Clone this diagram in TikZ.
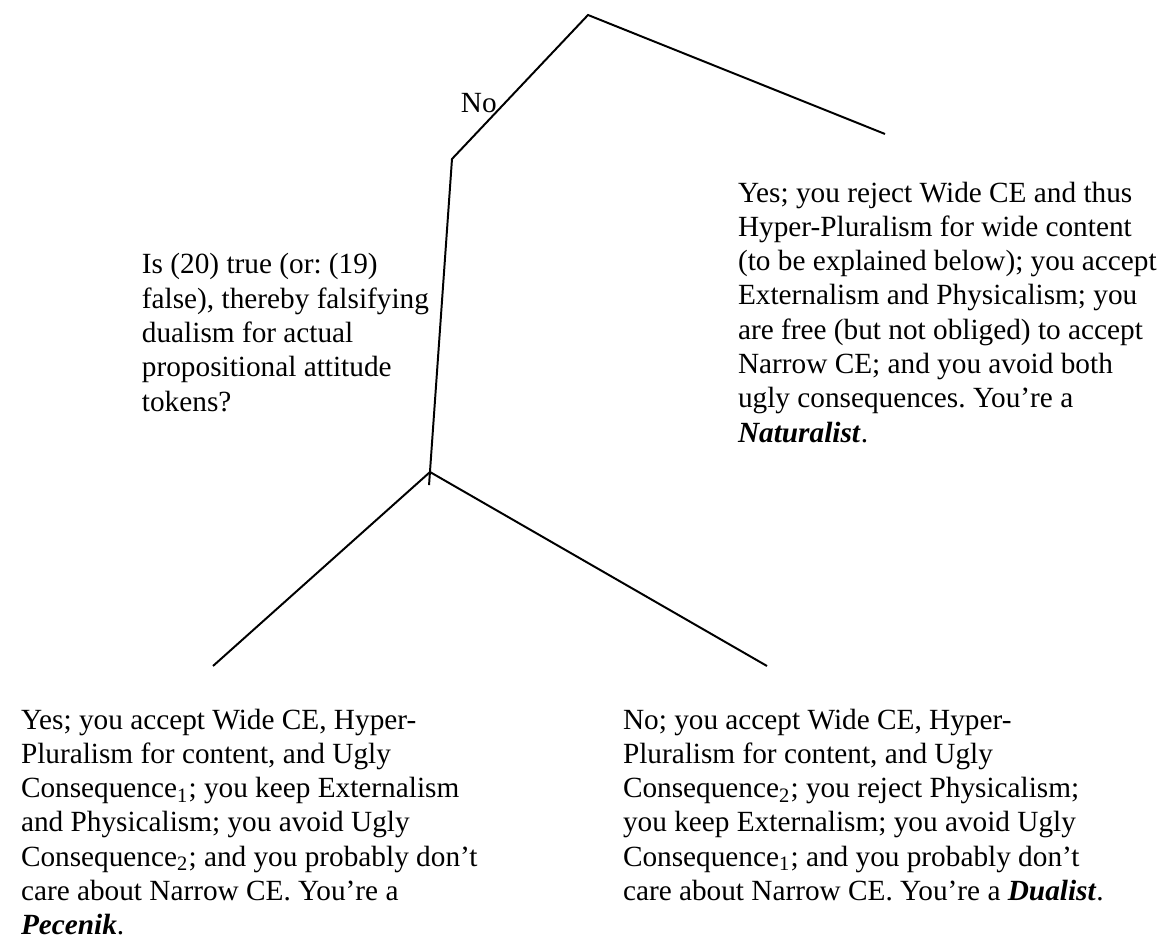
\documentclass[tikz,border=0pt]{standalone}
\usepackage{fontspec}
\setmainfont{Liberation Serif}

\begin{document}
\begin{tikzpicture}[line width=0.8pt,
  answer/.style={anchor=base west,inner sep=0pt,align=flush left,text width=7.5cm,
    font=\fontsize{11.9}{13.95}\selectfont\frenchspacing}]
\useasboundingbox (0,0) rectangle (16.614,-13.414);
% ---------- branch points ----------
\coordinate (top) at (8.400,-0.214);
\coordinate (yes1) at (12.643,-1.914);
\coordinate (no1) at (6.457,-2.271);
\coordinate (fork) at (6.143,-6.743);
\coordinate (stem) at (6.129,-6.929);
\coordinate (yes2) at (3.043,-9.514);
\coordinate (no2) at (10.957,-9.514);
% ---------- tree ----------
\draw (yes1) -- (top) -- (no1) -- (stem);
\draw (yes2) -- (fork) -- (no2);
% ---------- labels ----------
\node[answer,text width=] (nolabel) at (6.571,-1.614) {No};
\node[answer] (question) at (2.014,-3.914) {Is (20) true (or: (19)\\
  false), thereby falsifying\\
  dualism for actual\\
  propositional attitude\\
  tokens?};
\node[answer] (naturalist) at (10.529,-2.886) {Yes; you reject Wide CE and thus\\
  Hyper-Pluralism for wide content\\
  (to be explained below); you accept\\
  Externalism and Physicalism; you\\
  are free (but not obliged) to accept\\
  Narrow CE; and you avoid both\\
  ugly consequences. You’re a\\
  \textbf{\textit{Naturalist}}.};
\node[answer] (pecenik) at (0.286,-10.414) {Yes; you accept Wide CE, Hyper-\\
  Pluralism for content, and Ugly\\
  Consequence\textsubscript{1}; you keep Externalism\\
  and Physicalism; you avoid Ugly\\
  Consequence\textsubscript{2}; and you probably don’t\\
  care about Narrow CE. You’re a\\
  \textbf{\textit{Pecenik}}.};
\node[answer] (dualist) at (8.886,-10.414) {No; you accept Wide CE, Hyper-\\
  Pluralism for content, and Ugly\\
  Consequence\textsubscript{2}; you reject Physicalism;\\
  you keep Externalism; you avoid Ugly\\
  Consequence\textsubscript{1}; and you probably don’t\\
  care about Narrow CE. You’re a \textbf{\textit{Dualist}}.};
\end{tikzpicture}
\end{document}
